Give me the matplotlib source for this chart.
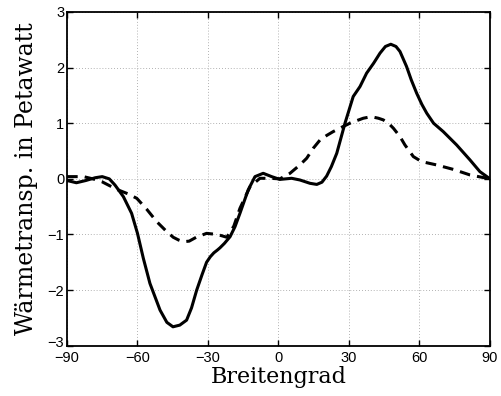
import matplotlib
matplotlib.use("Agg")
import matplotlib.pyplot as plt
import matplotlib.transforms as mtransforms

# Data
lat_total = [-90, -86, -82, -78, -75, -72, -69.6, -66, -62.5, -60, -57.5, -54.7, -50.4,
             -47.5, -44.9, -42, -39.1, -37, -34.8, -32.5, -30.6, -29, -27.5, -26, -24.9,
             -23, -20.6, -18.5, -16.4, -12.9,
             -10, -6.5, -2.9, 0.6, 5.6, 9.1, 13.4, 16.3, 18.5, 20.5, 22.5, 24.8, 28.3, 31.8, 34.7,
             37.5, 40.5, 43.2, 45.5, 47.8, 50, 51.7, 54.5, 56.5, 58.8, 61, 63.1, 66,
             70.1, 75.8, 81.5, 85.7, 90]
val_total = [-0.03, -0.07, -0.03, 0.02, 0.04, 0.0, -0.11, -0.32, -0.62, -0.98, -1.43, -1.88, -2.36,
             -2.58, -2.66, -2.63, -2.54, -2.32, -2.0, -1.72, -1.5, -1.4, -1.33, -1.28, -1.24,
             -1.16, -1.04, -0.86, -0.62, -0.2,
             0.04, 0.1, 0.04, -0.01, 0.01, -0.02, -0.08, -0.1, -0.06, 0.05, 0.22, 0.46, 1.0, 1.48, 1.66,
             1.9, 2.08, 2.26, 2.38, 2.42, 2.38, 2.29, 2.02, 1.78, 1.54, 1.34, 1.18, 1.0,
             0.85, 0.61, 0.34, 0.13, 0.0]

lat_ocean = [-90, -86, -83, -79, -75.2, -72, -68.2, -64, -60.3, -56, -51.8, -48, -44.8,
             -42.5, -40.5, -38, -35, -30.6, -26, -22, -19, -16.4, -12.1, -7.9, -3.6, 0.6,
             4.9, 9.1, 12, 14.8, 17.7, 20.5, 23.3, 27, 30.4, 33.5, 36.1, 38.5, 40.3, 42.5,
             44.6, 46.8, 48.9, 51.7, 53.8, 57.4, 60.9, 67.3, 74.4, 81.5, 90]
val_ocean = [0.04, 0.04, 0.04, 0.0, -0.05, -0.12, -0.2, -0.27, -0.35, -0.55, -0.77, -0.93, -1.05,
             -1.1, -1.13, -1.12, -1.05, -0.98, -1.0, -1.05, -0.85, -0.53, -0.14, 0.01, 0.01, 0.0,
             0.1, 0.25, 0.37, 0.55, 0.7, 0.78, 0.85, 0.93, 1.0, 1.05, 1.09, 1.11, 1.11, 1.09,
             1.06, 1.0, 0.91, 0.76, 0.61, 0.4, 0.31, 0.25, 0.17, 0.07, 0.0]

xticks = [-90, -60, -30, 0, 30, 60, 90]
yticks = [-3, -2, -1, 0, 1, 2, 3]

fig = plt.figure(figsize=(5.01, 3.96), dpi=100)
ax = fig.add_axes([0.1337, 0.127, 0.978 - 0.1337, 0.9697 - 0.127])

ax.plot(lat_total, val_total, color="black", lw=2.2, solid_joinstyle="round")
ax.plot(lat_ocean, val_ocean, color="black", lw=2.2, linestyle=(0, (3.5, 2.3)))

ax.set_xlim(-90, 90)
ax.set_ylim(-3, 3)
ax.set_xticks(xticks)
ax.set_yticks(yticks)
ax.set_xticklabels([str(t).replace("-", "\u2212") for t in xticks],
                   family="Liberation Sans", fontsize=10.5)
ax.set_yticklabels([str(t).replace("-", "\u2212") for t in yticks],
                   family="Liberation Sans", fontsize=10.5)
ax.tick_params(direction="in", length=4, width=1.0, top=True, right=True)
ax.tick_params(axis="x", pad=3.5)
ax.tick_params(axis="y", pad=2)
ax.grid(True, linestyle=(0, (1, 2.5)), color="#999999", linewidth=0.6)
for s in ax.spines.values():
    s.set_linewidth(1.3)

# lift the lowest y tick label slightly so it sits just above the -90 label
lowest = ax.get_yticklabels()[0]
lowest.set_transform(lowest.get_transform() +
                     mtransforms.ScaledTranslation(0, 3 / 72, fig.dpi_scale_trans))

ax.set_xlabel("Breitengrad", family="DejaVu Serif", fontsize=16, labelpad=1)
ax.set_ylabel("Wärmetransp. in Petawatt", family="DejaVu Serif", fontsize=17, labelpad=7)

fig.savefig("out.png", dpi=100)
